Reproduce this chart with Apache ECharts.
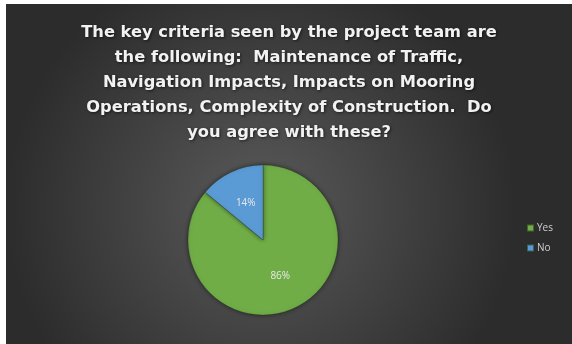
<!DOCTYPE html>
<html>
<head>
<meta charset="utf-8">
<script src="https://cdn.jsdelivr.net/npm/echarts@6/dist/echarts.min.js"></script>
<style>
  html, body { margin: 0; padding: 0; background: #ffffff; }
  #chart { position: absolute; left: 6px; top: 4px; width: 566px; height: 340px; }
</style>
</head>
<body>
<div id="chart"></div>
<script>
// Survey answers
const categories = ['Yes', 'No'];
const shares = [86, 14];
const sliceColors = ['#70ad47', '#5b9bd5'];
const titleText = 'The key criteria seen by the project team are\nthe following:  Maintenance of Traffic,\nNavigation Impacts, Impacts on Mooring\nOperations, Complexity of Construction.  Do\nyou agree with these?';

const chart = echarts.init(document.getElementById('chart'));
chart.setOption({
  backgroundColor: {
    type: 'radial', x: 0.45, y: 0.6, r: 0.75,
    colorStops: [
      { offset: 0, color: '#5a5a5a' },
      { offset: 1, color: '#2c2c2c' }
    ]
  },
  title: {
    text: titleText,
    left: 'center',
    top: 11,
    textStyle: {
      color: '#f2f2f2',
      fontFamily: 'DejaVu Sans',
      fontWeight: 'bold',
      fontSize: 16.3,
      lineHeight: 25,
      textShadowColor: 'rgba(0,0,0,0.6)',
      textShadowBlur: 3,
      textShadowOffsetX: 1,
      textShadowOffsetY: 1
    }
  },
  legend: {
    orient: 'vertical',
    left: 515,
    top: 214,
    itemWidth: 7,
    itemHeight: 7,
    itemGap: 10,
    icon: 'rect',
    textStyle: { color: '#d0d0d0', fontSize: 10, fontFamily: 'Open Sans', padding: [0, 0, 0, -2] },
    data: categories
  },
  series: [{
    type: 'pie',
    center: [257, 236],
    radius: 75,
    startAngle: 90,
    clockwise: true,
    silent: true,
    itemStyle: {
      borderColor: 'rgba(40,50,30,0.6)',
      borderWidth: 0.5,
      shadowBlur: 4,
      shadowColor: 'rgba(0,0,0,0.5)'
    },
    label: {
      position: 'inside',
      color: '#e8e8e8',
      fontSize: 10,
      fontFamily: 'Open Sans',
      formatter: p => p.value + '%'
    },
    labelLine: { show: false },
    data: categories.map((c, i) => ({
      name: c,
      value: shares[i],
      itemStyle: { color: sliceColors[i] }
    }))
  }]
});
</script>
</body>
</html>
